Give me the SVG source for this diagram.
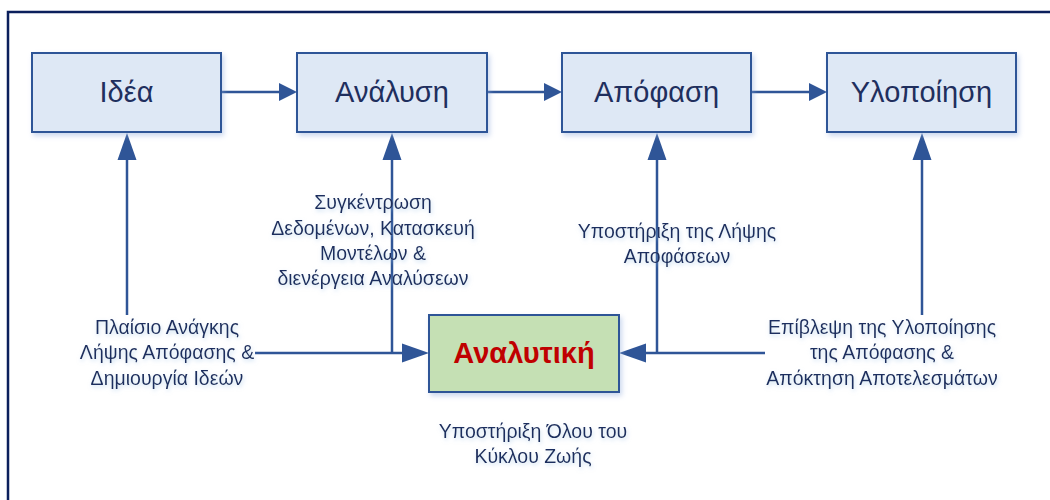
<svg xmlns="http://www.w3.org/2000/svg" width="1050" height="500" viewBox="0 0 1050 500">
  <style>
    .box { fill: #DEE8F5; stroke: #2F5597; stroke-width: 2; }
    .green { fill: #C5E0B4; stroke: #2F5597; stroke-width: 2; }
    .title { font-family: "Liberation Sans", Arial, sans-serif; font-size: 29px; fill: #1F2F5E; text-anchor: middle; }
    .red { font-family: "Liberation Sans", Arial, sans-serif; font-size: 29px; font-weight: bold; fill: #C00000; text-anchor: middle; }
    .lbl { font-family: "Liberation Sans", Arial, sans-serif; font-size: 19.5px; fill: #1F2F5E; text-anchor: middle; }
    .conn { stroke: #2F5597; stroke-width: 2.5; fill: none; }
    .head { fill: #2F5597; }
  </style>
  <defs>
    <filter id="sh" x="-10%" y="-10%" width="130%" height="140%">
      <feDropShadow dx="2" dy="3" stdDeviation="2.5" flood-color="#8EA9DB" flood-opacity="0.45"/>
    </filter>
    <filter id="glow" x="-10%" y="-20%" width="120%" height="150%">
      <feDropShadow dx="1" dy="2" stdDeviation="2" flood-color="#9DC3E6" flood-opacity="0.6"/>
    </filter>
  </defs>
  <rect width="1050" height="500" fill="#FFFFFF"/>
  <path d="M8,500 L8,12 L1050,12" fill="none" stroke="#0B1F5C" stroke-width="2.5"/>

  <g id="connectors">
    <line class="conn" x1="221" y1="92" x2="282" y2="92"/>
    <polygon class="head" points="297,92 279,83 279,101"/>
    <line class="conn" x1="487" y1="92" x2="547" y2="92"/>
    <polygon class="head" points="562,92 544,83 544,101"/>
    <line class="conn" x1="751" y1="92" x2="812" y2="92"/>
    <polygon class="head" points="827,92 809,83 809,101"/>

    <line class="conn" x1="127" y1="315" x2="127" y2="150"/>
    <polygon class="head" points="127,133 117.5,160 136.5,160"/>
    <polyline class="conn" points="392,353 392,150"/>
    <polygon class="head" points="392,133 382.5,160 401.5,160"/>
    <line class="conn" x1="255" y1="353" x2="410" y2="353"/>
    <polygon class="head" points="429,353 402,343.5 402,362.5"/>

    <polyline class="conn" points="657,353 657,150"/>
    <polygon class="head" points="657,133 647.5,160 666.5,160"/>
    <line class="conn" x1="765" y1="353" x2="638" y2="353"/>
    <polygon class="head" points="619,353 646,343.5 646,362.5"/>
    <line class="conn" x1="922" y1="315" x2="922" y2="150"/>
    <polygon class="head" points="922,133 912.5,160 931.5,160"/>
  </g>

  <g id="idea">
    <rect class="box" x="32" y="53" width="189" height="79" filter="url(#sh)"/>
    <text class="title" x="126.5" y="102">Ιδέα</text>
  </g>
  <g id="analysis">
    <rect class="box" x="297" y="53" width="190" height="79" filter="url(#sh)"/>
    <text class="title" x="392" y="102">Ανάλυση</text>
  </g>
  <g id="decision">
    <rect class="box" x="562" y="53" width="189" height="79" filter="url(#sh)"/>
    <text class="title" x="656.5" y="102">Απόφαση</text>
  </g>
  <g id="implementation">
    <rect class="box" x="827" y="53" width="189" height="79" filter="url(#sh)"/>
    <text class="title" x="921.5" y="102">Υλοποίηση</text>
  </g>
  <g id="analytics">
    <rect class="green" x="429" y="315" width="190" height="77" filter="url(#sh)"/>
    <text class="red" x="524" y="363">Αναλυτική</text>
  </g>

  <g id="labels" filter="url(#glow)">
    <text class="lbl" x="373" y="209">Συγκέντρωση</text>
    <text class="lbl" x="373" y="235">Δεδομένων, Κατασκευή</text>
    <text class="lbl" x="373" y="260">Μοντέλων &amp;</text>
    <text class="lbl" x="373" y="285">διενέργεια Αναλύσεων</text>

    <text class="lbl" x="167" y="334">Πλαίσιο Ανάγκης</text>
    <text class="lbl" x="167" y="359">Λήψης Απόφασης &amp;</text>
    <text class="lbl" x="167" y="385">Δημιουργία Ιδεών</text>

    <text class="lbl" x="677" y="238">Υποστήριξη της Λήψης</text>
    <text class="lbl" x="677" y="263">Αποφάσεων</text>

    <text class="lbl" x="882" y="334">Επίβλεψη της Υλοποίησης</text>
    <text class="lbl" x="882" y="359">της Απόφασης &amp;</text>
    <text class="lbl" x="882" y="385">Απόκτηση Αποτελεσμάτων</text>

    <text class="lbl" x="533" y="438">Υποστήριξη Όλου του</text>
    <text class="lbl" x="533" y="463">Κύκλου Ζωής</text>
  </g>
</svg>
